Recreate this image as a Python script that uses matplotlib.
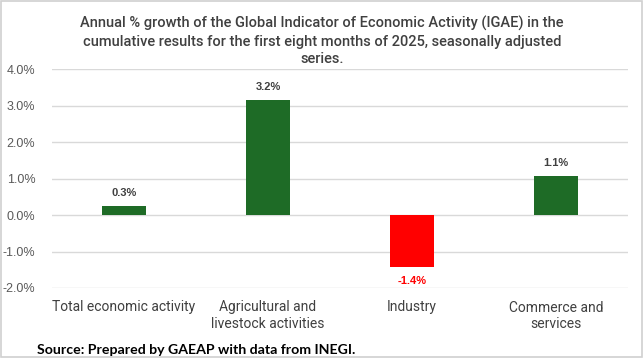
import matplotlib
matplotlib.use("Agg")
import matplotlib.pyplot as plt
from matplotlib.patches import Rectangle
from matplotlib.ticker import FuncFormatter

categories = ["Total economic activity", "Agricultural and\nlivestock activities", "Industry", "Commerce and\nservices"]
values = [0.25, 3.16, -1.43, 1.07]
labels = ["0.3%", "3.2%", "-1.4%", "1.1%"]
yticks = [-2, -1, 0, 1, 2, 3, 4]

green = "#1E6B26"
red = "#FF0000"
colors = [green if v >= 0 else red for v in values]

fig = plt.figure(figsize=(6.43, 3.58), dpi=100)
ax = fig.add_axes([52/643, 1-288/358, 576/643, (288-69.3)/358])

x = list(range(len(categories)))
ax.bar(x, values, width=0.31, color=colors, zorder=3)
ax.set_xlim(-0.5, 3.5)
ax.set_ylim(-2, 4)
ax.set_yticks(yticks)
ax.yaxis.set_major_formatter(FuncFormatter(lambda v, p: f"{v:.1f}%"))
ax.grid(axis="y", color="#D9D9D9", linewidth=1, zorder=0)
for s in ax.spines.values():
    s.set_visible(False)
ax.tick_params(axis="both", length=0)
ax.tick_params(axis="y", labelsize=9, labelcolor="#595959", pad=12)
ax.set_xticks(x)
ax.set_xticklabels(categories, fontsize=10, color="#404040", family=["Roboto", "DejaVu Sans"], linespacing=1.2)
ax.tick_params(axis="x", pad=9)
for lab in ax.get_yticklabels():
    lab.set_family(["Liberation Sans", "DejaVu Sans"])

for xi, v, t in zip(x, values, labels):
    if v >= 0:
        ax.annotate(t, (xi, v), xytext=(0, 6), textcoords="offset points", ha="center", va="bottom",
                    fontsize=8, fontweight="bold", color="#404040", family=["Liberation Sans", "DejaVu Sans"])
    else:
        ax.annotate(t, (xi, v), xytext=(0, -6), textcoords="offset points", ha="center", va="top",
                    fontsize=8, fontweight="bold", color=red, family=["Liberation Sans", "DejaVu Sans"])

fig.text(322/643, 1-41/358, "Annual % growth of the Global Indicator of Economic Activity (IGAE) in the\ncumulative results for the first eight months of 2025, seasonally adjusted\nseries.",
         ha="center", va="center", fontsize=10.5, fontweight="medium", color="#404040", linespacing=1.35,
         family=["Roboto", "DejaVu Sans"])

fig.text(37/643, 1-350/358, "Source: Prepared by GAEAP with data from INEGI.", ha="left", va="center",
         fontsize=10.2, fontweight="bold", color="black", family=["Lato", "DejaVu Sans"])

fig.patches.append(Rectangle((0.001, 0.002), 0.997, 0.995, transform=fig.transFigure, fill=False,
                             edgecolor="#D0D0D0", linewidth=1.2))

fig.savefig("out.png", dpi=100)
